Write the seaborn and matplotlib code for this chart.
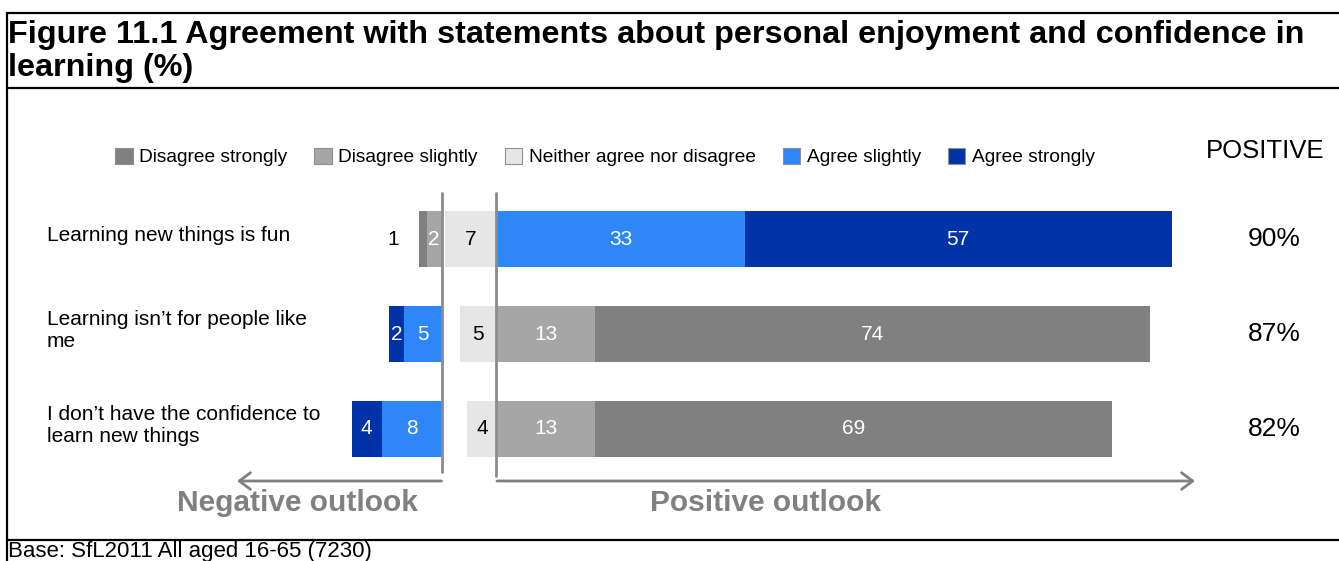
import matplotlib.pyplot as plt
import matplotlib.lines as mlines
from matplotlib.patches import Patch
import pandas as pd
import seaborn as sns

# Statements and share of people giving each answer (%)
statements = [
    "Learning new things is fun",
    "Learning isn’t for people like\nme",
    "I don’t have the confidence to\nlearn new things",
]
disagree_strongly = [1, 74, 69]
disagree_slightly = [2, 13, 13]
neither = [7, 5, 4]
agree_slightly = [33, 5, 8]
agree_strongly = [57, 2, 4]
positive_pct = [90, 87, 82]
# True where agreeing with the statement means a negative outlook
negative_wording = [False, True, True]

answer_labels = ["Disagree strongly", "Disagree slightly", "Neither agree nor disagree",
                 "Agree slightly", "Agree strongly"]
answer_colors = ["#808080", "#A6A6A6", "#E6E6E6", "#2E86F9", "#0033A8"]

W, H = 1339, 561
GAP = 7.4        # room left for the neutral bar between the two sides (% units)
GREY = "#808080"


def fx(px):
    return px / W


def fy(py):
    return 1 - py / H


# Split each row into negative / neutral / positive pieces
rows = []
for i, s in enumerate(statements):
    if negative_wording[i]:
        neg = (agree_slightly[i], agree_strongly[i], answer_colors[3], answer_colors[4])
        pos = (disagree_slightly[i], disagree_strongly[i], answer_colors[1], answer_colors[0])
    else:
        neg = (disagree_slightly[i], disagree_strongly[i], answer_colors[1], answer_colors[0])
        pos = (agree_slightly[i], agree_strongly[i], answer_colors[3], answer_colors[4])
    rows.append({
        "statement": s,
        "neg_inner": neg[0], "neg_outer": neg[1], "neg_inner_c": neg[2], "neg_outer_c": neg[3],
        "neutral": neither[i], "neutral_c": answer_colors[2],
        "pos_inner": pos[0], "pos_outer": pos[1], "pos_inner_c": pos[2], "pos_outer_c": pos[3],
    })
df = pd.DataFrame(rows)

sns.set_style("white")
plt.rcParams["font.family"] = ["Liberation Sans", "DejaVu Sans"]
plt.rcParams["text.color"] = "black"

fig = plt.figure(figsize=(W / 100, H / 100), dpi=100)
ax = fig.add_axes([0, fy(540), 1, (540 - 88) / H])

# Stacked bars: draw the long cumulative bar first, then the inner piece on top
layers = [
    (-(df["neg_inner"] + df["neg_outer"]), "neg_outer_c", -GAP),
    (-df["neg_inner"], "neg_inner_c", -GAP),
    (-df["neutral"], "neutral_c", 0),
    (df["pos_inner"] + df["pos_outer"], "pos_outer_c", 0),
    (df["pos_inner"], "pos_inner_c", 0),
]
for widths, ccol, left in layers:
    sns.barplot(x=widths, y=df["statement"], hue=df["statement"],
                palette=dict(zip(df["statement"], df[ccol])),
                order=statements, hue_order=statements, width=0.59,
                errorbar=None, legend=False, saturation=1, left=left,
                linewidth=0, ax=ax)

# x: 7.5 px per %, positive side starts at px 497; y: rows 95 px apart
ax.set_xlim((0 - 497) / 7.5, (W - 497) / 7.5)
ax.set_ylim((540 - 239) / 95, (88 - 239) / 95)
ax.axis("off")

# Value labels inside the segments
for i, r in df.iterrows():
    segs = [
        (-GAP - r["neg_inner"] - r["neg_outer"] / 2, r["neg_outer"], "white"),
        (-GAP - r["neg_inner"] / 2, r["neg_inner"], "white"),
        (-r["neutral"] / 2, r["neutral"], "black"),
        (r["pos_inner"] / 2, r["pos_inner"], "white"),
        (r["pos_inner"] + r["pos_outer"] / 2, r["pos_outer"], "white"),
    ]
    for k, (xc, val, col) in enumerate(segs):
        if val <= 1 and k == 0:
            # too thin, put the number outside the bar
            xc = -GAP - r["neg_inner"] - r["neg_outer"] - 3.5
            col = "black"
        ax.text(xc, i, f"{val}", ha="center", va="center", fontsize=15, color=col)

    ax.text(-60, i - 0.04, r["statement"], ha="left", va="center", fontsize=15,
            linespacing=1.2)
    ax.text(103.6, i, f"{positive_pct[i]}%", ha="center", va="center", fontsize=19)

ax.text(102.4, (151 - 239) / 95, "POSITIVE", ha="center", va="center", fontsize=18.5)

# Divider lines around the neutral column
ax.plot([-GAP + 0.1, -GAP + 0.1], [(193 - 239) / 95, (472 - 239) / 95], color="#8C8C8C", lw=2)
ax.plot([-0.2, -0.2], [(193 - 239) / 95, (476 - 239) / 95], color="#8C8C8C", lw=2)

# Outlook arrows and captions
arrow_y = (481 - 239) / 95
arrow_kw = dict(arrowstyle="->,head_length=0.4,head_width=0.3", color=GREY, lw=2,
                mutation_scale=20, shrinkA=0, shrinkB=0)
ax.annotate("", xy=((237 - 497) / 7.5, arrow_y), xytext=(-GAP, arrow_y), arrowprops=arrow_kw)
ax.annotate("", xy=((1195 - 497) / 7.5, arrow_y), xytext=(0, arrow_y), arrowprops=arrow_kw)
label_y = (503 - 239) / 95
ax.text((297 - 497) / 7.5, label_y, "Negative outlook", ha="center", va="center",
        fontsize=21.5, fontweight="bold", color=GREY)
ax.text((766 - 497) / 7.5, label_y, "Positive outlook", ha="center", va="center",
        fontsize=21.5, fontweight="bold", color=GREY)

# Legend
handles = [Patch(facecolor=c, edgecolor="#8f8f8f", linewidth=0.8) for c in answer_colors]
fig.legend(handles, answer_labels, ncol=5, loc="center", bbox_to_anchor=(fx(605), fy(157)),
           frameon=False, fontsize=13.8, handlelength=0.9, handleheight=0.9,
           handletextpad=0.35, columnspacing=1.4, borderpad=0)

# Title box and frame
fig.text(fx(8), fy(20), "Figure 11.1 Agreement with statements about personal enjoyment and confidence in\nlearning (%)",
         ha="left", va="top", fontsize=23.3, fontweight="bold", linespacing=1.12)
for x0, y0, x1, y1 in [(7, 13, W, 13), (7, 88, W, 88), (7, 540, W, 540), (7, 13, 7, H)]:
    fig.add_artist(mlines.Line2D([fx(x0), fx(x1)], [fy(y0), fy(y1)], color="black", lw=1.6))

fig.text(fx(8), fy(557), "Base: SfL2011 All aged 16-65 (7230)", ha="left", va="baseline", fontsize=16)

fig.savefig("out.png", dpi=100)
